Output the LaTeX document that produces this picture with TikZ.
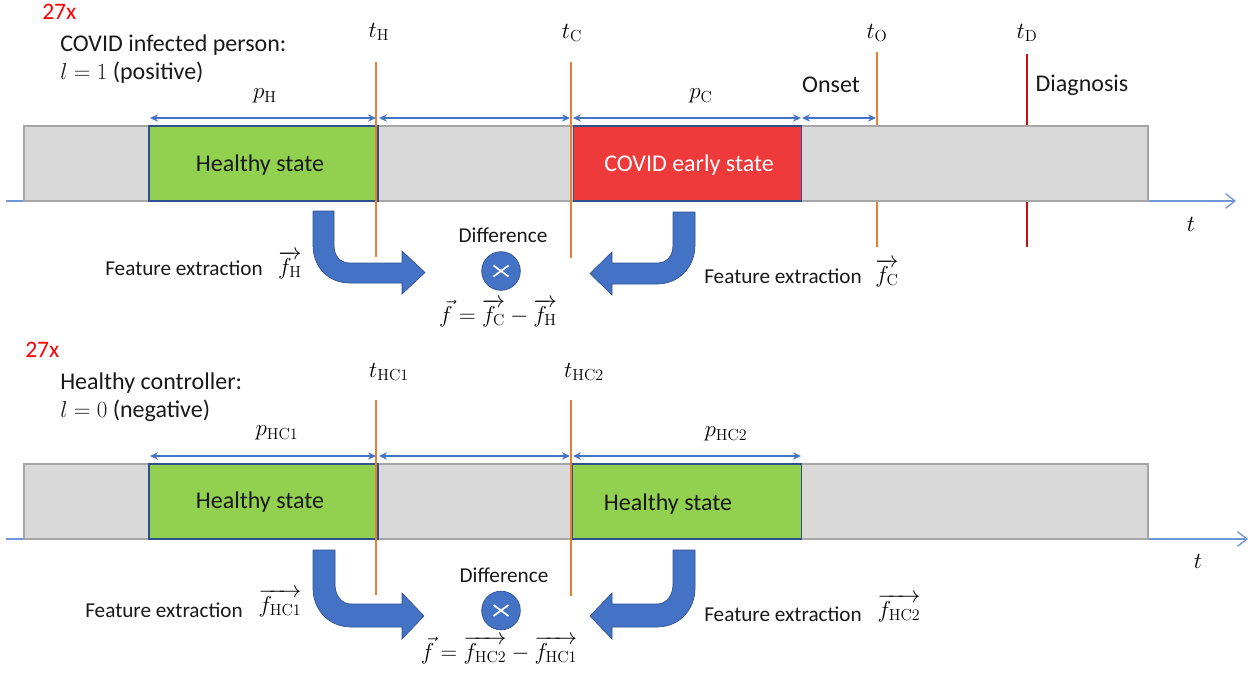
\documentclass[tikz,border=0pt]{standalone}
\usepackage[no-math]{fontspec}
\setmainfont{Carlito}
\usetikzlibrary{arrows.meta}
\definecolor{axisblue}{HTML}{6F96D8}
\definecolor{arrblue}{HTML}{4472C4}
\definecolor{edgeblue}{HTML}{2F528F}
\definecolor{barfill}{HTML}{D9D9D9}
\definecolor{baredge}{HTML}{A6A6A6}
\definecolor{okgreen}{HTML}{92D050}
\definecolor{badred}{HTML}{EE3A3A}
\definecolor{onsetorange}{HTML}{ED7D31}
\definecolor{diagred}{HTML}{C80F0F}
\tikzset{
 x=0.75pt,y=-0.75pt,
 lab/.style={inner sep=0pt,font=\fontsize{18}{21}\selectfont,text=black!90},
 small/.style={inner sep=0pt,font=\fontsize{15.9}{19}\selectfont,text=black!90},
 mth/.style={inner sep=0pt,font=\fontsize{18.5}{22}\selectfont},
 redlab/.style={inner sep=0pt,font=\fontsize{17.7}{21}\selectfont,text=red},
 bar/.style={draw=baredge,fill=barfill,line width=0.9pt,minimum width=843pt,minimum height=56.25pt,inner sep=0pt},
 state/.style={draw=edgeblue,line width=0.9pt,minimum height=56.25pt,minimum width=171.75pt,inner sep=0pt},
 axisline/.style={draw=axisblue,line width=1pt,-{Straight Barb[length=7pt,width=11pt]}},
 span/.style={draw=arrblue,line width=1pt,{Stealth[length=6pt,width=5.5pt]}-{Stealth[length=6pt,width=5.5pt]}},
 orange/.style={draw=onsetorange,line width=1.5pt},
 crimson/.style={draw=diagred,line width=1.6pt},
 block/.style={fill=arrblue,draw=edgeblue,line width=0.5pt},
 dot/.style={circle,fill=arrblue,draw=edgeblue,line width=0.5pt,minimum size=29pt,inner sep=0pt},
 crossline/.style={draw=white,line width=1.3pt},
}
\begin{document}
\begin{tikzpicture}
\useasboundingbox (0,0) rectangle (1250,675);
% ---------- upper panel ----------
\coordinate (a1s) at (6,201); \coordinate (a1e) at (1236,201);
\draw[axisline] (a1s) -- (a1e);
\coordinate (oT) at (877,52); \coordinate (oB) at (877,247);
\coordinate (dT) at (1027,54); \coordinate (dB) at (1027,247);
\draw[orange] (oT) -- (oB);
\draw[crimson] (dT) -- (dB);
\node[bar] (bar1) at (586,163.5) {};
\node[state,fill=okgreen] (h1) at (263.5,163.5) {};
\node[lab] (h1t) at (260,165) {Healthy state};
\node[state,fill=badred,minimum width=171pt] (c1) at (687.5,163.5) {};
\node[lab,text=white] (c1t) at (689,165) {COVID early state};
\coordinate (hT) at (375.5,62); \coordinate (hB) at (375.5,257);
\coordinate (cT) at (570.5,62); \coordinate (cB) at (570.5,258);
\draw[orange] (hT) -- (hB);
\draw[orange] (cT) -- (cB);
\coordinate (s1) at (150,118); \coordinate (s2) at (376,118);
\coordinate (s3) at (379,118); \coordinate (s4) at (570,118);
\coordinate (s5) at (573,118); \coordinate (s6) at (801,118);
\coordinate (s7) at (802,118); \coordinate (s8) at (876,118);
\draw[span] (s1) -- (s2); \draw[span] (s3) -- (s4); \draw[span] (s5) -- (s6); \draw[span] (s7) -- (s8);
\draw[block] (313,211) -- (334,211) -- (334,245) .. controls (334,256) and (340,263) .. (350,263) -- (402,263) -- (402,251) -- (425,272.5) -- (402,294) -- (402,283) -- (350,283) .. controls (328,283) and (313,267) .. (313,245) -- cycle;
\draw[block] (695,212) -- (673,212) -- (673,245) .. controls (673,256) and (667,263) .. (657,263) -- (612,263) -- (612,252) -- (590,273.5) -- (612,295) -- (612,284) -- (657,284) .. controls (679,284) and (695,267) .. (695,245) -- cycle;
\node[dot] (d1) at (501,271) {};
\draw[crossline] (493.5,265.5) -- (508.5,276.5);
\draw[crossline] (493.5,276.5) -- (508.5,265.5);
\node[redlab,anchor=west] (n27a) at (42,12) {27x};
\node[lab,anchor=west] (covid) at (60,45) {COVID infected person:};
\node[lab,anchor=west] (lpos) at (60,73) {$l=1$ (positive)};
\node[mth] (tH) at (379,32) {$t_{\mathrm{H}}$};
\node[mth] (tC) at (572,33) {$t_{\mathrm{C}}$};
\node[mth] (tO) at (877,33) {$t_{\mathrm{O}}$};
\node[mth] (tD) at (1027,33) {$t_{\mathrm{D}}$};
\node[mth] (pH) at (265,96) {$p_{\mathrm{H}}$};
\node[mth] (pC) at (701,96) {$p_{\mathrm{C}}$};
\node[lab] (onset) at (831,85) {Onset};
\node[lab] (diag) at (1082,85) {Diagnosis};
\node[mth] (t1) at (1191,224) {$t$};
\node[small] (fe1) at (184,268) {Feature extraction};
\node[mth] (fH) at (290,265) {$\overrightarrow{f_{\mathrm{H}}}$};
\node[small] (fe2) at (783,276) {Feature extraction};
\node[mth] (fC) at (887,273) {$\overrightarrow{f_{\mathrm{C}}}$};
\node[small] (df1) at (503,235) {Difference};
\node[mth] (eq1) at (498,313) {$\vec{f}=\overrightarrow{f_{\mathrm{C}}}-\overrightarrow{f_{\mathrm{H}}}$};
% ---------- lower panel ----------
\coordinate (a2s) at (6,539); \coordinate (a2e) at (1248,539);
\draw[axisline] (a2s) -- (a2e);
\node[bar] (bar2) at (586,501.5) {};
\node[state,fill=okgreen] (h2) at (263.5,501.5) {};
\node[lab] (h2t) at (260,502) {Healthy state};
\node[state,fill=okgreen] (h3) at (687,501.5) {};
\node[lab] (h3t) at (668,504) {Healthy state};
\coordinate (h1T) at (375.5,400); \coordinate (h1B) at (375.5,595);
\coordinate (h2T) at (570.5,400); \coordinate (h2B) at (570.5,596);
\draw[orange] (h1T) -- (h1B);
\draw[orange] (h2T) -- (h2B);
\coordinate (u1) at (150,456); \coordinate (u2) at (376,456);
\coordinate (u3) at (379,456); \coordinate (u4) at (570,456);
\coordinate (u5) at (573,456); \coordinate (u6) at (801,456);
\draw[span] (u1) -- (u2); \draw[span] (u3) -- (u4); \draw[span] (u5) -- (u6);
\draw[block] (313,550) -- (335,550) -- (335,584) .. controls (335,595) and (341,604) .. (351,604) -- (402,604) -- (402,593) -- (424,616) -- (402,639) -- (402,627) -- (351,627) .. controls (329,627) and (313,610) .. (313,588) -- cycle;
\draw[block] (695,550) -- (673,550) -- (673,584) .. controls (673,595) and (667,604) .. (657,604) -- (612,604) -- (612,593) -- (590,616) -- (612,639) -- (612,627) -- (657,627) .. controls (679,627) and (695,610) .. (695,588) -- cycle;
\node[dot] (d2) at (501,610.5) {};
\draw[crossline] (493.5,605) -- (508.5,616);
\draw[crossline] (493.5,616) -- (508.5,605);
\node[redlab,anchor=west] (n27b) at (25,350) {27x};
\node[lab,anchor=west] (ctrl) at (60,383) {Healthy controller:};
\node[lab,anchor=west] (lneg) at (60,411) {$l=0$ (negative)};
\node[mth] (tHC1) at (389,372) {$t_{\mathrm{HC1}}$};
\node[mth] (tHC2) at (584,372) {$t_{\mathrm{HC2}}$};
\node[mth] (pHC1) at (277,433) {$p_{\mathrm{HC1}}$};
\node[mth] (pHC2) at (726,434) {$p_{\mathrm{HC2}}$};
\node[mth] (t2) at (1198,561) {$t$};
\node[small] (fe3) at (164,610) {Feature extraction};
\node[mth] (fHC1) at (280,603) {$\overrightarrow{f_{\mathrm{HC1}}}$};
\node[small] (fe4) at (783,614) {Feature extraction};
\node[mth] (fHC2) at (899,608) {$\overrightarrow{f_{\mathrm{HC2}}}$};
\node[small] (df2) at (504,575) {Difference};
\node[mth] (eq2) at (499,650) {$\vec{f}=\overrightarrow{f_{\mathrm{HC2}}}-\overrightarrow{f_{\mathrm{HC1}}}$};
\end{tikzpicture}
\end{document}
